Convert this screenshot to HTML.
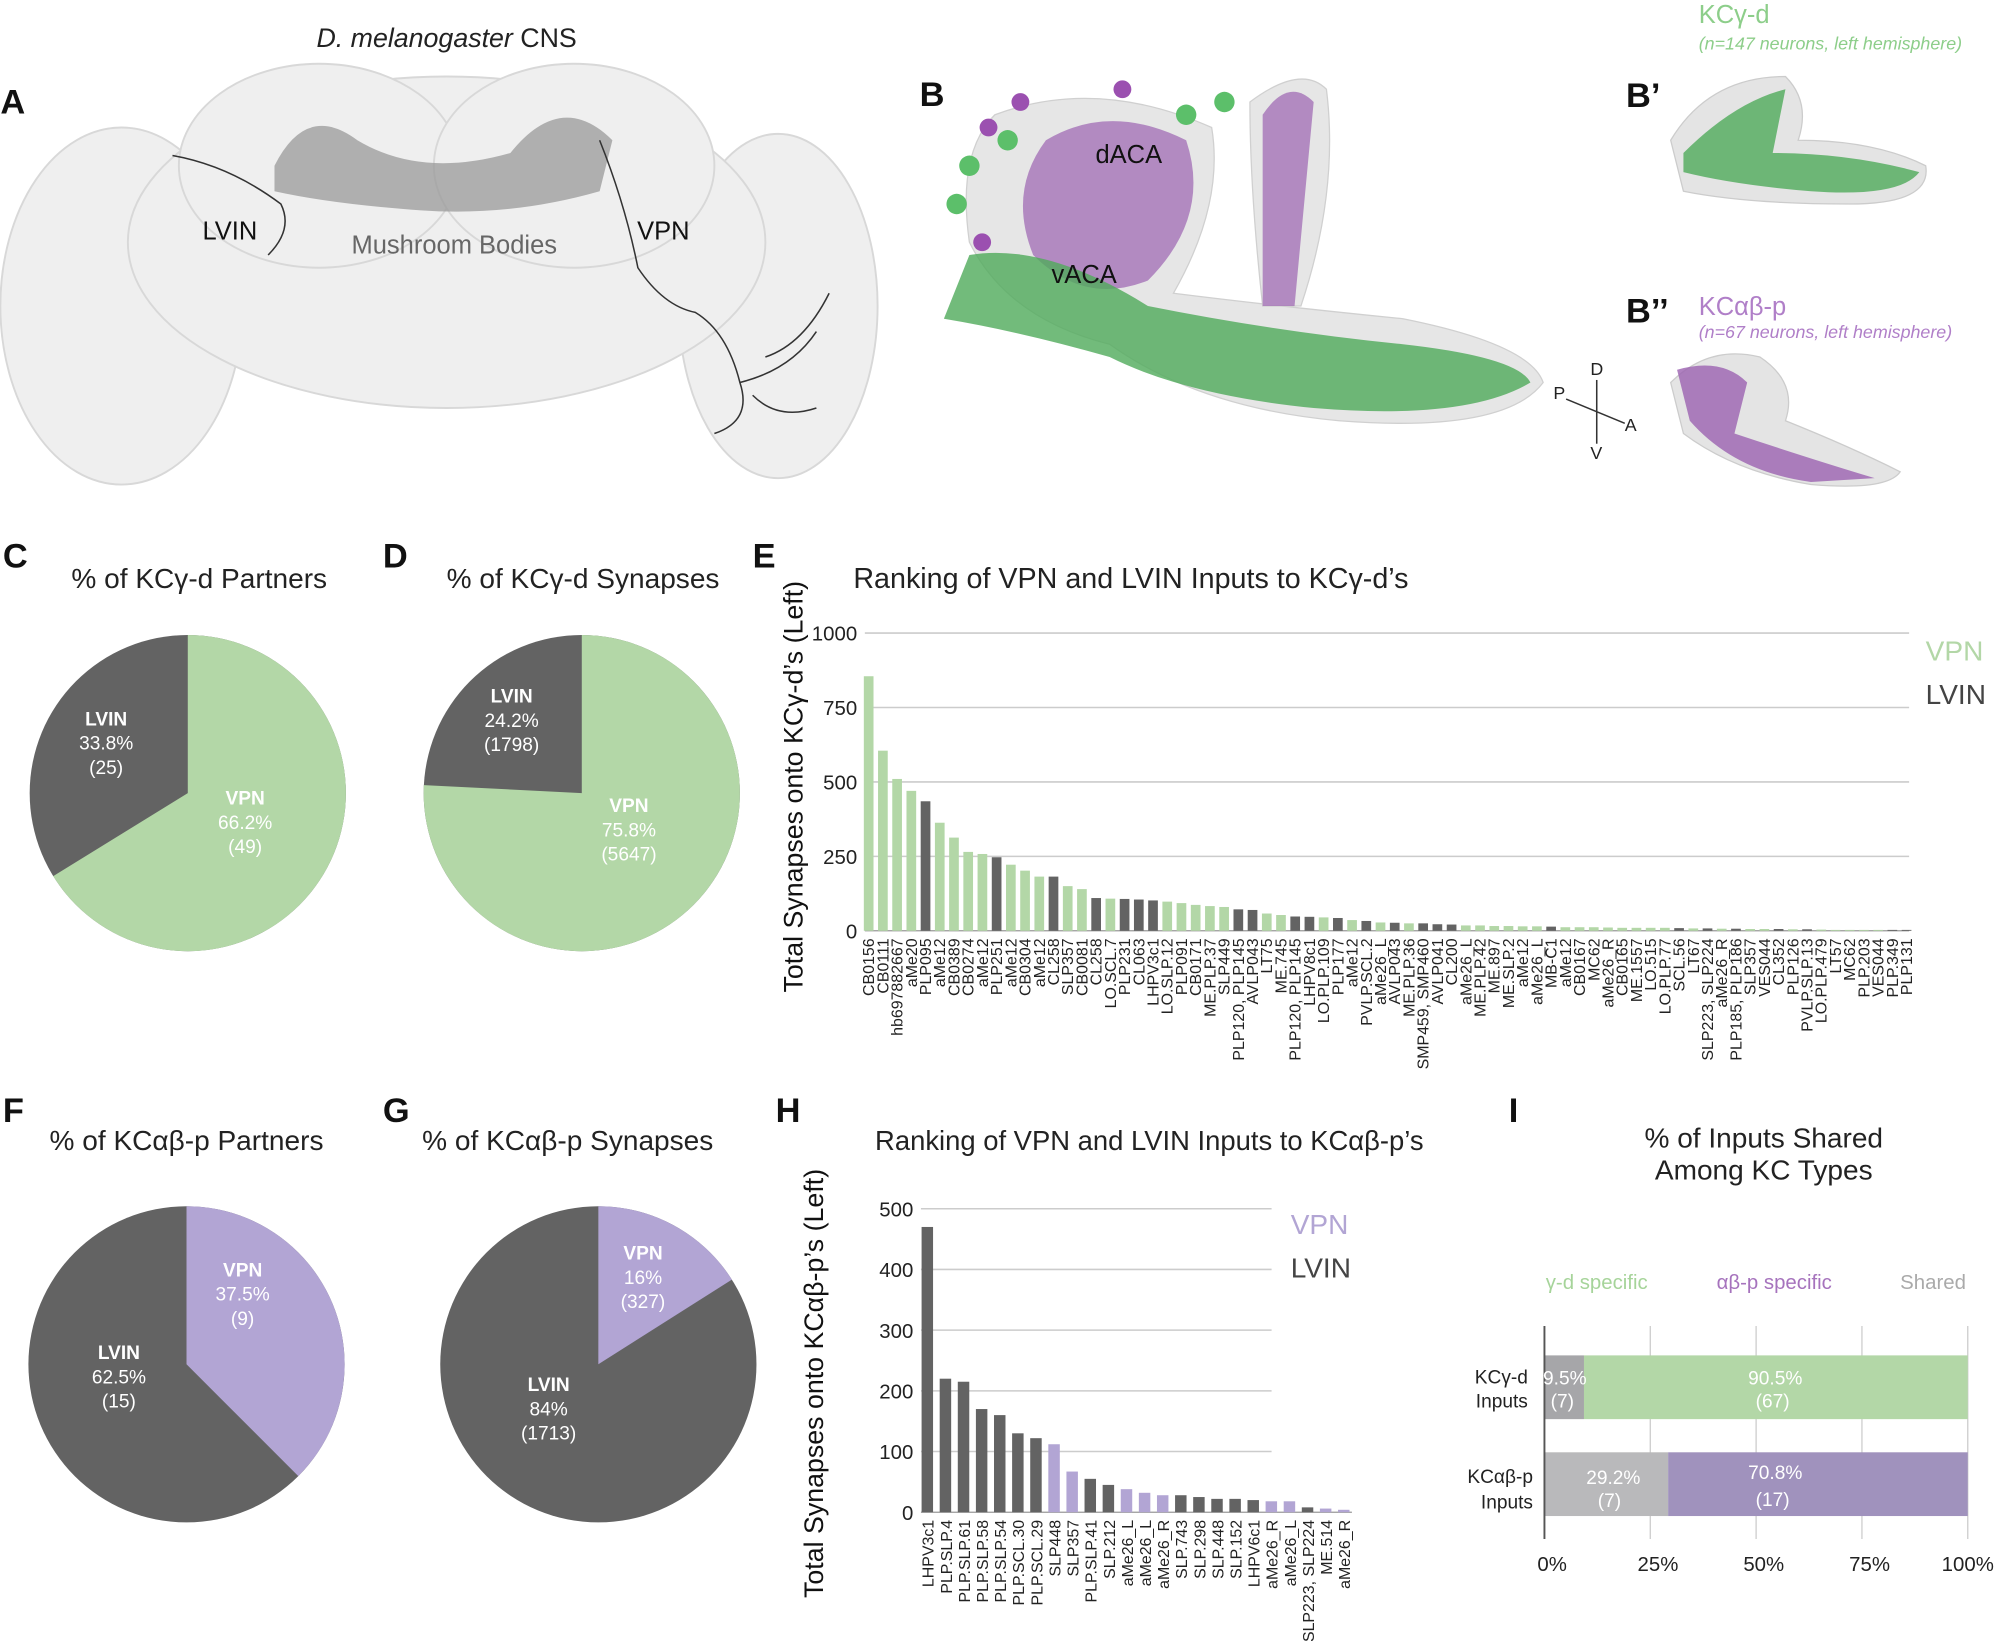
<!DOCTYPE html>
<html><head><meta charset="utf-8"><style>
html,body{margin:0;padding:0;background:#fff;}
svg{display:block;font-family:"Liberation Sans",Arial,sans-serif;}
</style></head><body>
<svg id="s" width="2000" height="1641" viewBox="0 0 1568 1287" xmlns="http://www.w3.org/2000/svg">
<rect width="1568" height="1287" fill="#fff"/>
<!-- Panel A brain -->
<g fill="#efefef" stroke="#d8d8d8" stroke-width="1.5">
<ellipse cx="95" cy="240" rx="95" ry="140"/>
<ellipse cx="610" cy="240" rx="78" ry="135"/>
<ellipse cx="350" cy="190" rx="250" ry="130"/>
<ellipse cx="250" cy="130" rx="110" ry="80"/>
<ellipse cx="450" cy="130" rx="110" ry="80"/>
</g>
<path d="M215,130 Q240,80 280,110 Q330,140 400,120 Q440,70 480,110 L470,150 Q400,170 330,165 Q260,160 215,150Z" fill="#9a9a9a" opacity="0.75"/>
<g stroke="#333" stroke-width="1.2" fill="none">
<path d="M135,122 Q180,130 220,160 Q230,180 210,200"/>
<path d="M470,110 Q490,160 500,210 Q520,240 545,245 Q570,260 580,300 Q590,330 560,340"/>
<path d="M580,300 Q620,290 640,260 M590,310 Q610,330 640,320 M600,280 Q630,270 650,230"/>
</g>
<text x="350" y="37" font-size="21" text-anchor="middle" fill="#222"><tspan font-style="italic">D. melanogaster</tspan> CNS</text>
<text x="180" y="188" font-size="20" text-anchor="middle" fill="#111">LVIN</text>
<text x="356" y="199" font-size="20" text-anchor="middle" fill="#666">Mushroom Bodies</text>
<text x="520" y="188" font-size="20" text-anchor="middle" fill="#111">VPN</text>
<!-- Panel B -->
<g fill="#e6e6e6" stroke="#d0d0d0">
<path d="M780,90 Q860,60 950,100 Q960,160 920,230 Q1000,240 1100,250 Q1200,270 1210,300 Q1180,340 1050,330 Q940,320 870,270 Q790,250 760,190 Q750,120 780,90Z"/>
<path d="M980,80 Q1020,50 1040,70 Q1050,150 1020,240 L990,240 Q980,150 980,80Z"/>
</g>
<path d="M820,110 Q870,80 930,110 Q950,170 900,220 Q850,240 810,200 Q790,150 820,110Z" fill="#9b62b0" opacity="0.7"/>
<path d="M990,90 Q1010,60 1030,80 L1015,240 L990,240Z" fill="#9b62b0" opacity="0.7"/>
<path d="M760,200 Q820,190 900,240 Q1000,260 1100,270 Q1190,280 1200,300 Q1150,330 1030,320 Q930,310 870,280 Q800,260 740,250Z" fill="#4faa5a" opacity="0.8"/>
<g fill="#5cbf6a"><circle cx="760" cy="130" r="8"/><circle cx="790" cy="110" r="8"/><circle cx="930" cy="90" r="8"/><circle cx="960" cy="80" r="8"/><circle cx="750" cy="160" r="8"/></g>
<g fill="#9b50b0"><circle cx="775" cy="100" r="7"/><circle cx="800" cy="80" r="7"/><circle cx="880" cy="70" r="7"/><circle cx="770" cy="190" r="7"/></g>
<text x="885" y="128" font-size="20" text-anchor="middle" fill="#111">dACA</text>
<text x="850" y="222" font-size="20" text-anchor="middle" fill="#111">vACA</text>
<!-- B' -->
<path d="M1310,110 Q1340,60 1400,60 Q1420,80 1410,110 Q1470,110 1510,130 Q1515,160 1450,160 Q1370,160 1320,150Z" fill="#e4e4e4" stroke="#ccc"/>
<path d="M1320,120 Q1360,80 1400,70 L1390,120 Q1450,120 1505,135 Q1490,155 1420,150 Q1360,145 1320,135Z" fill="#4faa5a" opacity="0.8"/>
<text x="1332" y="18" font-size="20" fill="#8dce8a">KCγ-d</text>
<text x="1332" y="39" font-size="14" font-style="italic" fill="#8dce8a">(n=147 neurons, left hemisphere)</text>
<!-- B'' -->
<path d="M1310,300 Q1340,270 1380,280 Q1410,300 1400,330 Q1450,350 1490,370 Q1480,385 1420,380 Q1360,370 1320,340Z" fill="#e4e4e4" stroke="#ccc"/>
<path d="M1315,290 Q1350,280 1370,300 L1360,340 Q1420,360 1470,375 L1420,378 Q1360,370 1325,330Z" fill="#9b62b0" opacity="0.8"/>
<text x="1332" y="247" font-size="20" fill="#b07fc8">KCαβ-p</text>
<text x="1332" y="265" font-size="14" font-style="italic" fill="#b07fc8">(n=67 neurons, left hemisphere)</text>
<g stroke="#333" stroke-width="1.2"><line x1="1252" y1="298" x2="1252" y2="348"/><line x1="1228" y1="313" x2="1274" y2="332"/></g>
<g font-size="14" fill="#222"><text x="1247" y="294">D</text><text x="1247" y="360">V</text><text x="1218" y="313">P</text><text x="1274" y="338">A</text></g>
<g font-size="27" font-weight="bold" fill="#111">
<text x="0" y="89">A</text><text x="721" y="83">B</text><text x="1275" y="84">B’</text><text x="1275" y="253">B’’</text>
<text x="2" y="445">C</text><text x="300" y="445">D</text><text x="590" y="445">E</text>
<text x="2" y="880">F</text><text x="300" y="880">G</text><text x="608" y="880">H</text><text x="1183" y="880">I</text>
</g>
<g font-size="22" fill="#222">
<text x="156" y="461" text-anchor="middle">% of KCγ-d Partners</text>
<text x="457" y="461" text-anchor="middle">% of KCγ-d Synapses</text>
<text x="669" y="461" font-size="22.5">Ranking of VPN and LVIN Inputs to KCγ-d’s</text>
<text x="146" y="902" text-anchor="middle">% of KCαβ-p Partners</text>
<text x="445" y="902" text-anchor="middle">% of KCαβ-p Synapses</text>
<text x="686" y="902" font-size="21.5">Ranking of VPN and LVIN Inputs to KCαβ-p’s</text>
<text x="1383" y="900" text-anchor="middle">% of Inputs Shared</text>
<text x="1383" y="925" text-anchor="middle">Among KC Types</text>
</g>
<g id="pies"></g>
<g id="E"></g>
<g id="H"></g>
<!-- I -->
<g>
<g stroke="#ccc" stroke-width="1"><line x1="1294" y1="1040" x2="1294" y2="1207"/><line x1="1377" y1="1040" x2="1377" y2="1207"/><line x1="1460" y1="1040" x2="1460" y2="1207"/><line x1="1543" y1="1040" x2="1543" y2="1207"/></g>
<rect x="1211" y="1063" width="31" height="50" fill="#a6a6a9"/>
<rect x="1242" y="1063" width="301" height="50" fill="#b3d7a7"/>
<rect x="1211" y="1139" width="97" height="50" fill="#b9b9bb"/>
<rect x="1308" y="1139" width="235" height="50" fill="#a092bd"/>
<line x1="1211" y1="1040" x2="1211" y2="1207" stroke="#555" stroke-width="1.5"/>
<g font-size="15" fill="#fff" text-anchor="middle">
<text x="1227" y="1086">9.5%</text><text x="1225" y="1104">(7)</text>
<text x="1392" y="1086">90.5%</text><text x="1390" y="1104">(67)</text>
<text x="1265" y="1164">29.2%</text><text x="1262" y="1182">(7)</text>
<text x="1392" y="1160">70.8%</text><text x="1390" y="1181">(17)</text>
</g>
<g font-size="15" fill="#222" text-anchor="end">
<text x="1198" y="1085">KCγ-d</text><text x="1198" y="1104">Inputs</text>
<text x="1202" y="1163">KCαβ-p</text><text x="1202" y="1183">Inputs</text>
</g>
<g font-size="16" fill="#222" text-anchor="middle">
<text x="1217" y="1232">0%</text><text x="1300" y="1232">25%</text><text x="1383" y="1232">50%</text><text x="1466" y="1232">75%</text><text x="1543" y="1232">100%</text>
</g>
<text x="1212" y="1011" font-size="16" fill="#a6d49a">γ-d specific</text>
<text x="1346" y="1011" font-size="16" fill="#a673bd">αβ-p specific</text>
<text x="1490" y="1011" font-size="16" fill="#aaa">Shared</text>
</g>
</svg>
<script>
var NS="http://www.w3.org/2000/svg";
function el(p,t,a,txt){var e=document.createElementNS(NS,t);for(var k in a)e.setAttribute(k,a[k]);if(txt!==undefined)e.textContent=txt;p.appendChild(e);return e;}
var G="#b3d7a7",D="#636363",P="#b2a5d4";
var pg=document.getElementById("pies");
function pie(cx,cy,r,frac,col){
  var a=2*Math.PI*frac;
  el(pg,"circle",{cx:cx,cy:cy,r:r,fill:D});
  var x=cx+r*Math.sin(a),y=cy-r*Math.cos(a);
  el(pg,"path",{d:"M"+cx+","+cy+" L"+cx+","+(cy-r)+" A"+r+","+r+" 0 "+(frac>0.5?1:0)+" 1 "+x+","+y+" Z",fill:col});
}
pie(147,622,124,0.662,G);pie(456,622,124,0.758,G);pie(146,1070,124,0.375,P);pie(469,1070,124,0.16,P);
function lab(x,y,a,b,c){el(pg,"text",{x:x,y:y,"font-size":15,"font-weight":"bold",fill:"#fff","text-anchor":"middle"},a);
el(pg,"text",{x:x,y:y+19,"font-size":15,fill:"#fff","text-anchor":"middle"},b);el(pg,"text",{x:x,y:y+38,"font-size":15,fill:"#fff","text-anchor":"middle"},c);}
lab(83,569,"LVIN","33.8%","(25)");lab(192,631,"VPN","66.2%","(49)");
lab(401,551,"LVIN","24.2%","(1798)");lab(493,637,"VPN","75.8%","(5647)");
lab(190,1001,"VPN","37.5%","(9)");lab(93,1066,"LVIN","62.5%","(15)");
lab(504,988,"VPN","16%","(327)");lab(430,1091,"LVIN","84%","(1713)");
var E=document.getElementById("E");
var ed=[["CB0156",855,0],["CB0111",605,0],["hb697882667",510,0],["aMe20",470,0],["PLP095",435,1],["aMe12",363,0],["CB0389",313,0],["CB0274",265,0],["aMe12",258,0],["PLP251",247,1],["aMe12",222,0],["CB0304",202,0],["aMe12",182,0],["CL258",182,1],["SLP357",150,0],["CB0081",140,0],["CL258",110,1],["LO.SCL.7",108,0],["PLP231",107,1],["CL063",105,1],["LHPV3c1",102,1],["LO.SLP.12",98,0],["PLP091",93,0],["CB0171",87,0],["ME.PLP.37",83,0],["SLP449",80,0],["PLP120, PLP145",72,1],["AVLP043",70,1],["LT75",58,0],["ME.745",53,0],["PLP120, PLP145",48,1],["LHPV8c1",47,1],["LO.PLP.109",45,0],["PLP177",43,1],["aMe12",36,0],["PVLP.SCL.2",33,1],["aMe26_L",28,0],["AVLP043",27,1],["ME.PLP.36",25,0],["SMP459, SMP460",25,1],["AVLP041",22,1],["CL200",21,1],["aMe26_L",18,0],["ME.PLP.42",18,0],["ME.897",16,0],["ME.SLP.2",16,0],["aMe12",15,0],["aMe26_L",15,0],["MB-C1",14,1],["aMe12",12,0],["CB0167",12,0],["MC62",12,0],["aMe26_R",11,0],["CB0165",10,0],["ME.1557",10,0],["LO.515",10,0],["LO.PLP.77",10,0],["SCL.56",9,1],["LT67",8,0],["SLP223, SLP224",8,1],["aMe26_R",7,0],["PLP185, PLP186",7,1],["SLP357",6,0],["VES044",6,0],["CL352",6,1],["PLP126",5,0],["PVLP.SLP.13",5,1],["LO.PLP.479",4,0],["LT57",3,0],["MC62",3,0],["PLP.203",3,0],["VES044",3,0],["PLP.349",3,1],["PLP131",3,1]];
var y0=730,sc=0.2335;
[0,250,500,750,1000].forEach(function(v){var y=y0-v*sc;
 if(v>0)el(E,"line",{x1:678,x2:1497,y1:y,y2:y,stroke:"#ccc","stroke-width":1.2});
 el(E,"text",{x:672,y:y+6,"font-size":16,"text-anchor":"end",fill:"#222"},v);});
el(E,"line",{x1:678,x2:1497,y1:y0,y2:y0,stroke:"#999","stroke-width":1});
var sp=(1495-681)/(ed.length-1);
ed.forEach(function(d,i){var x=681+i*sp;var h=d[1]*sc;
 el(E,"rect",{x:x-3.8,y:y0-h,width:7.6,height:h,fill:d[2]?D:G});
 el(E,"text",{transform:"translate("+(x+4.3)+","+(y0+6)+") rotate(-90)","font-size":12.5,"text-anchor":"end",fill:"#222"},d[0]);});
el(E,"text",{transform:"translate(629,617) rotate(-90)","font-size":21,"text-anchor":"middle",fill:"#111"},"Total Synapses onto KCγ-d’s (Left)");
el(E,"text",{x:1510,y:518,"font-size":22,fill:"#b3d7a7"},"VPN");
el(E,"text",{x:1510,y:552,"font-size":22,fill:"#444"},"LVIN");
var H=document.getElementById("H");
var hd=[["LHPV3c1",470,1],["PLP.SLP.4",220,1],["PLP.SLP.61",215,1],["PLP.SLP.58",170,1],["PLP.SLP.54",160,1],["PLP.SCL.30",130,1],["PLP.SCL.29",122,1],["SLP448",112,0],["SLP357",67,0],["PLP.SLP.41",55,1],["SLP.212",45,1],["aMe26_L",38,0],["aMe26_L",32,0],["aMe26_R",28,0],["SLP.743",28,1],["SLP.298",25,1],["SLP.448",22,1],["SLP.152",22,1],["LHPV6c1",20,1],["aMe26_R",18,0],["aMe26_L",18,0],["SLP223, SLP224",8,1],["ME.514",6,0],["aMe26_R",4,0]];
var hy0=1186,hs=0.476;
[0,100,200,300,400,500].forEach(function(v){var y=hy0-v*hs;
 if(v>0)el(H,"line",{x1:722,x2:997,y1:y,y2:y,stroke:"#ccc","stroke-width":1.2});
 el(H,"text",{x:716,y:y+6,"font-size":16,"text-anchor":"end",fill:"#222"},v);});
el(H,"line",{x1:722,x2:1060,y1:hy0,y2:hy0,stroke:"#999","stroke-width":1});
hd.forEach(function(d,i){var x=727+i*14.2;var h=d[1]*hs;
 el(H,"rect",{x:x-4.5,y:hy0-h,width:9,height:h,fill:d[2]?D:P});
 el(H,"text",{transform:"translate("+(x+5)+","+(hy0+6)+") rotate(-90)","font-size":12.5,"text-anchor":"end",fill:"#222"},d[0]);});
el(H,"text",{transform:"translate(645,1085) rotate(-90)","font-size":21,"text-anchor":"middle",fill:"#111"},"Total Synapses onto KCαβ-p’s (Left)");
el(H,"text",{x:1012,y:968,"font-size":22,fill:"#b2a5d4"},"VPN");
el(H,"text",{x:1012,y:1002,"font-size":22,fill:"#444"},"LVIN");
</script>
</body></html>
